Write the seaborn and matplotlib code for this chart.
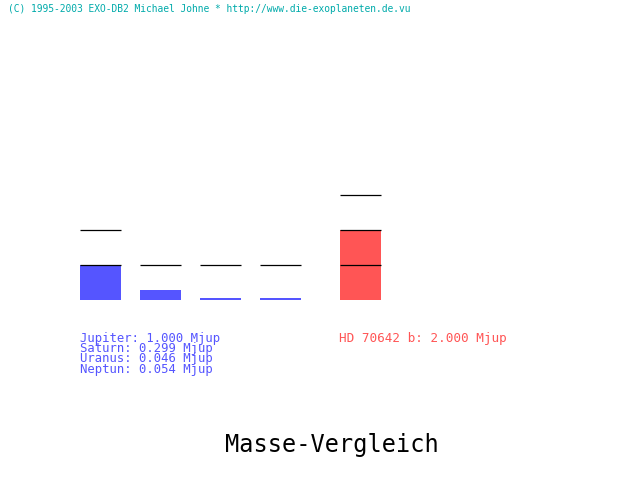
import matplotlib
matplotlib.use("Agg")
import matplotlib.pyplot as plt
import seaborn as sns
import pandas as pd
import numpy as np

# ---- data ----
names = ["Jupiter", "Saturn", "Uranus", "Neptun", "HD 70642 b"]
masses = [1.000, 0.299, 0.046, 0.054, 2.000]
groups = ["Sonnensystem", "Sonnensystem", "Sonnensystem", "Sonnensystem", "Exoplanet"]
title = "Masse-Vergleich"
credit = "(C) 1995-2003 EXO-DB2 Michael Johne * http://www.die-exoplaneten.de.vu"
unit = "Mjup"

# ---- layout (pixels) ----
W, H = 640, 480
px_per_mjup = 35.0
base_y = 300.0
slot_centers = [100.5 + 60 * i for i in range(4)] + [360.5]
bar_w = 41.0
blue = "#5555FF"
red = "#FF5555"
teal = "#00AAAA"

df = pd.DataFrame({"name": names, "mass": masses, "group": groups, "pos": slot_centers})

sns.set_theme(style="white")
plt.rcParams["font.family"] = ["DejaVu Sans Mono", "DejaVu Sans"]

fig = plt.figure(figsize=(6.4, 4.8), dpi=100)
fig.patch.set_facecolor("white")
ax = fig.add_axes([0, 0, 1, 1])
ax.set_facecolor("white")

sns.barplot(data=df, x="pos", y="mass", hue="group", native_scale=True,
            palette={"Sonnensystem": blue, "Exoplanet": red},
            width=bar_w / 60.0, dodge=False, legend=False, linewidth=0,
            saturation=1, ax=ax)

# reference lines at integer masses
for m, c in zip(df["mass"], df["pos"]):
    for k in range(1, int(np.floor(m)) + 2):
        ax.hlines(k, c - bar_w / 2, c + bar_w / 2, color="black", lw=0.9, zorder=3)

ax.set_xlim(0, W)
ax.set_ylim(-(H - base_y) / px_per_mjup, base_y / px_per_mjup)
ax.axis("off")

def ftext(x, y, s, **kw):
    fig.text(x / W, 1 - y / H, s, **kw)

ftext(8, 8.5, credit, color=teal, fontsize=6.9, va="center", ha="left")

solar_block = "\n".join(f"{names[i]}: {masses[i]:.3f} {unit}" for i in range(4))
ftext(80, 332, solar_block, color=blue, fontsize=8.8, va="top", ha="left",
      linespacing=0.72)
ftext(339, 338.5, f"{names[4]}: {masses[4]:.3f} {unit}", color=red,
      fontsize=9.1, va="center", ha="left")

ftext(332, 445, title, color="black", fontsize=17, va="center", ha="center")

fig.savefig("out.png", dpi=100, facecolor="white")
